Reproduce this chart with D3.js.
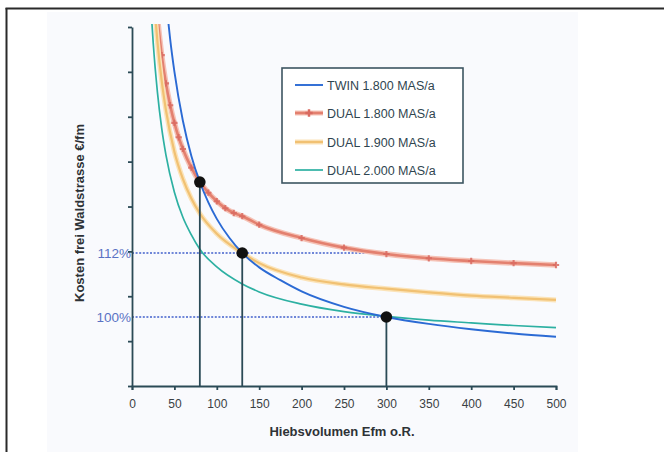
<!DOCTYPE html>
<html><head><meta charset="utf-8">
<script src="https://cdn.jsdelivr.net/npm/d3@7"></script>
<style>
html,body{margin:0;padding:0;background:#fff;}
svg{display:block;font-family:"Liberation Sans",Arial,sans-serif;}
</style></head>
<body>
<svg id="chart" width="664" height="452"></svg>
<script>
// ---- data ----
const xTicks = [0, 50, 100, 150, 200, 250, 300, 350, 400, 450, 500];
const yTicks = [87.06, 95.47, 103.89, 112.30, 120.71, 129.13, 137.54, 145.96, 154.37];
const refLevels = [112, 100];
const refLabels = ["112%", "100%"];
const dropX = [80, 130, 300];
const dropY = [125.3, 112, 100];

const twinX = [42, 45, 50, 60, 70, 80, 90, 100, 115, 130, 150, 175, 200, 250, 300, 350, 400, 450, 500];
const twinY = [156.5, 152.1, 146.0, 136.8, 130.2, 125.3, 121.5, 118.4, 114.8, 112.0, 109.3, 106.9, 104.8, 101.9, 100.0, 98.7, 97.7, 96.9, 96.3];

const dual1800X = [30, 35, 40, 45, 50, 55, 60, 70, 80, 90, 100, 110, 120, 130, 150, 200, 250, 300, 350, 400, 450, 500];
const dual1800Y = [156.2, 149.1, 143.8, 139.7, 136.4, 133.7, 131.5, 128.0, 125.3, 123.3, 121.7, 120.4, 119.5, 118.9, 117.3, 114.8, 113.0, 111.8, 111.0, 110.5, 110.1, 109.75];
const dual1800MarkX = [35, 40, 45, 50, 55, 60, 70, 80, 90, 100, 110, 120, 130, 150, 200, 250, 300, 350, 400, 450, 500];

const dual1900X = [28, 30, 35, 40, 50, 60, 70, 80, 100, 130, 150, 200, 250, 300, 350, 400, 450, 500];
const dual1900Y = [155.3, 151.6, 144.3, 138.8, 131.0, 125.9, 122.2, 119.4, 115.6, 112.0, 110.1, 107.4, 106.1, 105.3, 104.6, 104.0, 103.6, 103.2];

const dual2000X = [23, 25, 30, 35, 40, 50, 60, 70, 80, 100, 130, 150, 200, 250, 300, 350, 400, 450, 500];
const dual2000Y = [156.3, 151.4, 142.1, 135.4, 130.4, 123.4, 118.7, 115.4, 112.7, 109.4, 106.2, 104.7, 102.4, 101.0, 100.1, 99.4, 98.9, 98.4, 98.0];

const seriesNames = ["TWIN 1.800 MAS/a", "DUAL 1.800 MAS/a", "DUAL 1.900 MAS/a", "DUAL 2.000 MAS/a"];

// ---- drawing ----
const svg = d3.select("#chart");
const W = 664, H = 452;
const m = {left: 132, right: 556, top: 27, bottom: 386};
const axisCol = "#2b4a56";

// frame and faint background
svg.append("rect").attr("x", 47).attr("y", 12).attr("width", 531).attr("height", H - 12).attr("fill", "#f9fafd");
svg.append("line").attr("x1", 5.5).attr("x2", W).attr("y1", 8.5).attr("y2", 8.5).attr("stroke", "#2a2a2a").attr("stroke-width", 2);
svg.append("line").attr("x1", 6.5).attr("x2", 6.5).attr("y1", 8).attr("y2", H).attr("stroke", "#2a2a2a").attr("stroke-width", 2);

const x = d3.scaleLinear().domain([0, 500]).range([m.left, m.right]);
const y = d3.scaleLinear().domain([yTicks[0], yTicks[yTicks.length - 1]]).range([m.bottom, m.top]);

svg.append("defs").append("clipPath").attr("id", "plotclip")
  .append("rect").attr("x", m.left).attr("y", m.top - 3).attr("width", m.right - m.left + 5).attr("height", m.bottom - m.top + 3);

// reference dotted lines
const refG = svg.append("g");
refLevels.forEach((lv, i) => {
  refG.append("line").attr("x1", x(0)).attr("x2", x(300)).attr("y1", y(lv)).attr("y2", y(lv))
    .attr("stroke", "#6f86d8").attr("stroke-width", 2.2).attr("stroke-dasharray", "2,1.6");
  refG.append("text").attr("x", x(0) - 1).attr("y", y(lv)).attr("dy", "0.35em")
    .attr("text-anchor", "end").attr("fill", "#5a72c4").attr("font-size", 13.5).text(refLabels[i]);
});

// curves
const line = d3.line().x(d => x(d[0])).y(d => y(d[1])).curve(d3.curveMonotoneX);
const plot = svg.append("g").attr("clip-path", "url(#plotclip)");
const zip = (a, b) => a.map((v, i) => [v, b[i]]);

const red = zip(dual1800X, dual1800Y);
const orange = zip(dual1900X, dual1900Y);
const teal = zip(dual2000X, dual2000Y);
const blue = zip(twinX, twinY);

plot.append("path").attr("d", line(red)).attr("fill", "none").attr("stroke", "#f5c2b6").attr("stroke-width", 5.5);
plot.append("path").attr("d", line(red)).attr("fill", "none").attr("stroke", "#e3806f").attr("stroke-width", 2.6);
const redInterp = d3.scaleLinear().domain(dual1800X).range(dual1800Y);
plot.selectAll(".rm").data(dual1800MarkX).join("path").attr("class", "rm")
  .attr("transform", d => `translate(${x(d)},${y(redInterp(d))})`)
  .attr("d", d3.symbol().type(d3.symbolCross).size(22)).attr("fill", "#d96a60").attr("opacity", 0.85);

plot.append("path").attr("d", line(orange)).attr("fill", "none").attr("stroke", "#fbe3b8").attr("stroke-width", 5);
plot.append("path").attr("d", line(orange)).attr("fill", "none").attr("stroke", "#f1c173").attr("stroke-width", 2.2);

plot.append("path").attr("d", line(teal)).attr("fill", "none").attr("stroke", "#2db0a2").attr("stroke-width", 1.7);
plot.append("path").attr("d", line(blue)).attr("fill", "none").attr("stroke", "#2b6ad4").attr("stroke-width", 1.9);

// drop lines and dots
dropX.forEach((dx, i) => {
  svg.append("line").attr("x1", x(dx)).attr("x2", x(dx)).attr("y1", y(dropY[i])).attr("y2", m.bottom)
    .attr("stroke", axisCol).attr("stroke-width", 1.8);
});
svg.selectAll(".dot").data(dropX).join("circle").attr("class", "dot")
  .attr("cx", d => x(d)).attr("cy", (d, i) => y(dropY[i])).attr("r", 5.8).attr("fill", "#111");

// axes
const gx = svg.append("g").attr("transform", `translate(0,${m.bottom})`)
  .call(d3.axisBottom(x).tickValues(xTicks).tickSize(4).tickPadding(9).tickFormat(d3.format("d")));
gx.selectAll("path,line").attr("stroke", axisCol).attr("stroke-width", 1.8);
gx.selectAll("text").attr("fill", "#3a3f44").attr("font-size", 12).attr("font-family", "Liberation Sans, Arial, sans-serif");

const gy = svg.append("g").attr("transform", `translate(${m.left},0)`)
  .call(d3.axisLeft(y).tickValues(yTicks).tickSize(4).tickSizeOuter(0).tickFormat(""));
gy.selectAll("path,line").attr("stroke", axisCol).attr("stroke-width", 1.8);

// axis titles
svg.append("text").attr("x", 342).attr("y", 436).attr("text-anchor", "middle")
  .attr("font-size", 13).attr("font-weight", "bold").attr("fill", "#2e3236").text("Hiebsvolumen Efm o.R.");
svg.append("text").attr("transform", "translate(84,213) rotate(-90)").attr("text-anchor", "middle")
  .attr("font-size", 13).attr("font-weight", "bold").attr("fill", "#2e3236").text("Kosten frei Waldstrasse €/fm");

// legend
const lg = svg.append("g");
lg.append("rect").attr("x", 282).attr("y", 68).attr("width", 181).attr("height", 115)
  .attr("fill", "#fff").attr("stroke", "#3d5561").attr("stroke-width", 1.6);
const rowsY = [85, 113, 142, 170];
const legStyles = [
  {c: "#2b6ad4", w: 1.9, halo: null},
  {c: "#e3806f", w: 2.6, halo: "#f5c2b6", mark: true},
  {c: "#f1c173", w: 2.2, halo: "#fbe3b8"},
  {c: "#2db0a2", w: 1.7, halo: null}
];
seriesNames.forEach((nm, i) => {
  const s = legStyles[i], yy = rowsY[i];
  if (s.halo) lg.append("line").attr("x1", 295).attr("x2", 323).attr("y1", yy).attr("y2", yy).attr("stroke", s.halo).attr("stroke-width", 5);
  lg.append("line").attr("x1", 295).attr("x2", 323).attr("y1", yy).attr("y2", yy).attr("stroke", s.c).attr("stroke-width", s.w);
  if (s.mark) lg.append("path").attr("transform", `translate(309,${yy})`).attr("d", d3.symbol().type(d3.symbolCross).size(30)).attr("fill", "#d96a60");
  lg.append("text").attr("x", 327).attr("y", yy).attr("dy", "0.36em").attr("font-size", 12.5).attr("fill", "#2f4550").text(nm);
});
</script>
</body></html>
